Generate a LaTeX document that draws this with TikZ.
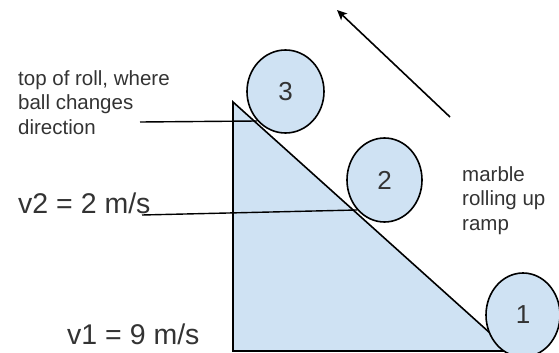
\documentclass[tikz,border=0pt]{standalone}
\usepackage{fontspec}
\setmainfont{Liberation Sans}
\usetikzlibrary{shapes.geometric,arrows.meta}
\definecolor{rampblue}{HTML}{CFE2F3}
\definecolor{txt}{HTML}{333333}
\tikzset{
  ball/.style={ellipse,draw=black,fill=rampblue,line width=1.6pt,inner sep=0pt,
    text=txt,font=\fontsize{26}{30}\selectfont},
  note/.style={inner sep=0pt,text=txt,align=left,font=\fontsize{20.5}{24.5}\selectfont},
  big/.style={inner sep=0pt,text=txt,font=\fontsize{28.5}{32}\selectfont},
  leader/.style={draw=black,line width=1.4pt},
}
\begin{document}
\begin{tikzpicture}[x=1pt,y=-1pt]
\useasboundingbox (0,0) rectangle (559,353);
% ramp
\coordinate (top) at (233,102);
\coordinate (bl) at (233,351);
\coordinate (br) at (510,351);
\draw[fill=rampblue,line width=1.6pt,line join=miter] (top) -- (bl) -- (br) -- cycle;
% marbles
\node[ball,minimum width=77pt,minimum height=83pt] (b3) at (285.5,91.5) {3};
\node[ball,minimum width=75pt,minimum height=84pt] (b2) at (384.5,180) {2};
\node[ball,minimum width=74pt,minimum height=84pt] (b1) at (523,315) {1};
% texts
\node[note,anchor=north west] (ttop) at (18,70) {top of roll, where\\ball changes\\direction};
\node[note,anchor=north west] (tmarble) at (462,166) {marble\\rolling up\\ramp};
\node[big,anchor=base west] (tv2) at (18,213) {v2 = 2 m/s};
\node[big,anchor=base west] (tv1) at (67,344) {v1 = 9 m/s};
% leaders
\coordinate (l3a) at (140,122);
\coordinate (l3b) at (257,121);
\coordinate (l2a) at (142,215);
\coordinate (l2b) at (357,210);
\draw[leader] (l3a) -- (l3b);
\draw[leader] (l2a) -- (l2b);
% direction arrow
\coordinate (arA) at (450,117);
\coordinate (arB) at (337,10);
\draw[line width=1.6pt,-{Stealth[length=10pt,width=9pt,inset=2.5pt]}] (arA) -- (arB);
\end{tikzpicture}
\end{document}
